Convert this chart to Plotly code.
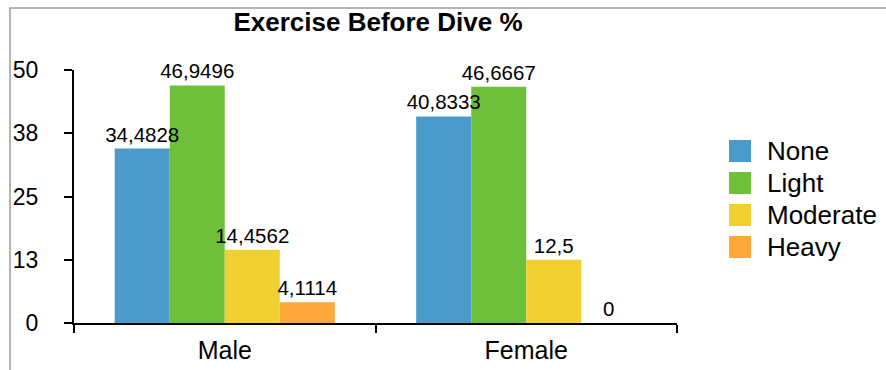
import plotly.graph_objects as go

# Survey: exercise level reported before the dive, % by sex
categories = ["Male", "Female"]
series_names = ["None", "Light", "Moderate", "Heavy"]
none_vals = [34.4828, 40.8333]
light_vals = [46.9496, 46.6667]
moderate_vals = [14.4562, 12.5]
heavy_vals = [4.1114, 0]
series_values = [none_vals, light_vals, moderate_vals, heavy_vals]
colors = ["#4A9BCA", "#6EC03A", "#F0D030", "#FDA83A"]
y_tickvals = [0, 12.5, 25, 37.5, 50]
y_ticktext = ["0", "13", "25", "38", "50"]

FONT = "Liberation Sans, Arial, Helvetica, sans-serif"
W, H = 886, 370
L, R, T, B = 74, 209, 70, 47
PW, PH = W - L - R, H - T - B


def px_x(x):
    return (x - L) / PW


def px_y(y):
    return (H - B - y) / PH


def fmt(v):
    s = ("%.4f" % v).rstrip("0").rstrip(".")
    return s.replace(".", ",")


fig = go.Figure()
# filled bars
for i, (name, vals, col) in enumerate(zip(series_names, series_values, colors)):
    fig.add_trace(go.Bar(
        x=categories, y=vals, name=name, offsetgroup=str(i),
        marker=dict(color=col, line=dict(width=0)), showlegend=False,
    ))
# value labels, drawn on top of every bar
for i, (name, vals) in enumerate(zip(series_names, series_values)):
    fig.add_trace(go.Bar(
        x=categories, y=vals, name=name, offsetgroup=str(i),
        marker=dict(color="rgba(0,0,0,0)", line=dict(width=0)),
        text=[fmt(v) for v in vals], textposition="outside", cliponaxis=False,
        constraintext="none", hoverinfo="skip",
        textfont=dict(family=FONT, size=20.5, color="black"), showlegend=False,
    ))

shapes = [dict(type="rect", xref="paper", yref="paper",
               x0=px_x(10), x1=px_x(W + 20), y0=px_y(8), y1=px_y(H + 20),
               line=dict(color="#9C9C9C", width=1.5), fillcolor="rgba(0,0,0,0)", layer="below")]
annotations = []
for i, (name, col) in enumerate(zip(series_names, colors)):
    cy = 151 + 32 * i
    shapes.append(dict(type="rect", xref="paper", yref="paper",
                       x0=px_x(729), x1=px_x(751), y0=px_y(cy + 11), y1=px_y(cy - 11),
                       fillcolor=col, line=dict(width=0)))
    annotations.append(dict(xref="paper", yref="paper", x=px_x(765), y=px_y(cy),
                            xanchor="left", yanchor="middle", showarrow=False, text=name,
                            font=dict(family=FONT, size=26, color="black")))

fig.update_layout(
    width=W, height=H, margin=dict(l=L, r=R, t=T, b=B, autoexpand=False),
    paper_bgcolor="white", plot_bgcolor="white",
    barmode="group", bargap=0.27, bargroupgap=0,
    font=dict(family=FONT, color="black"),
    title=dict(text="<b>Exercise Before Dive %</b>", x=px_x(378), xref="paper", xanchor="center",
               y=1 - 22 / H, yref="container", yanchor="middle",
               font=dict(family=FONT, size=26, color="black")),
    shapes=shapes, annotations=annotations, showlegend=False,
)
fig.update_xaxes(showline=True, linecolor="black", linewidth=2, ticks="outside", ticklen=8,
                 tickwidth=2, tickcolor="black", tickson="boundaries", showgrid=False,
                 tickfont=dict(family=FONT, size=25, color="black"), ticklabelstandoff=4)
fig.update_yaxes(range=[0, 50], tickvals=y_tickvals, ticktext=y_ticktext, showline=True,
                 linecolor="black", linewidth=2, ticks="outside", ticklen=8, tickwidth=2,
                 tickcolor="black", showgrid=False, zeroline=False,
                 tickfont=dict(family=FONT, size=23, color="black"), ticklabelstandoff=21)

fig.write_html("out.html")
